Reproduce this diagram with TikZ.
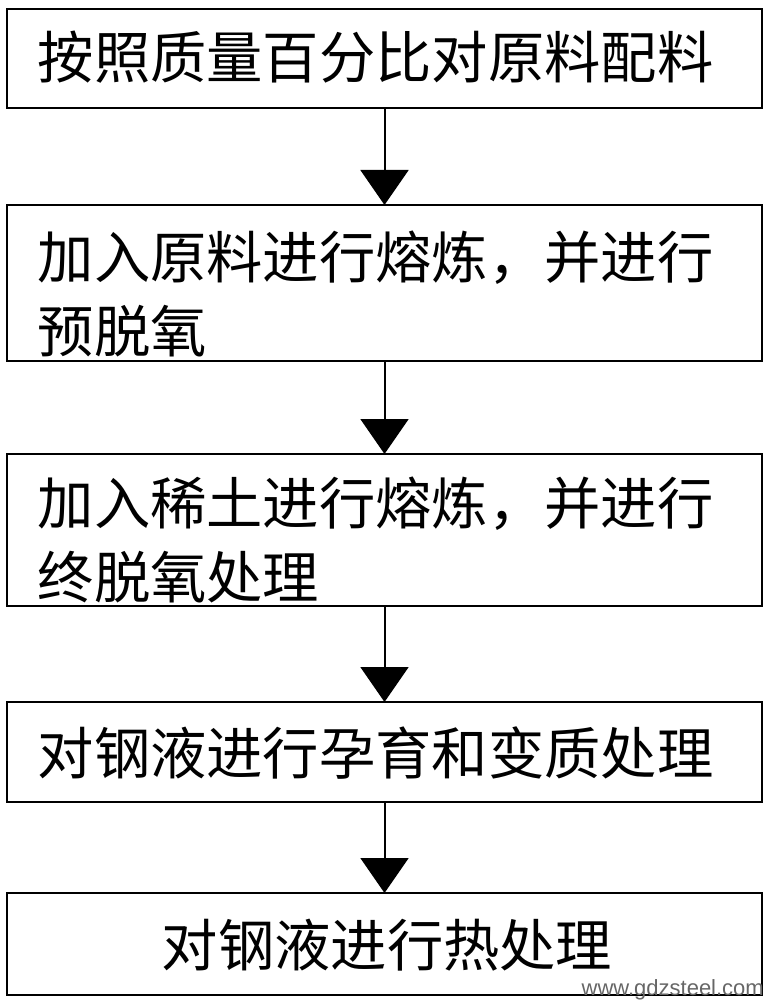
\documentclass[tikz,border=0pt]{standalone}
\usepackage{fontspec}
\newfontfamily\cjk{Noto Sans CJK SC}
\newfontfamily\wmfont{Liberation Sans}
\usetikzlibrary{arrows.meta}
\begin{document}
\begin{tikzpicture}[x=1pt,y=-1pt,
  box/.style={draw=black, line width=2pt, minimum width=755pt, inner sep=0pt, outer sep=0pt},
  txt/.style={font=\cjk\fontsize{56.3}{74}\selectfont, inner sep=0pt, anchor=west, align=left},
  arr/.style={line width=2pt, -{Triangle[width=48pt,length=35pt]}}]
\useasboundingbox (0,0) rectangle (767,1000);
\node[box, minimum height=99pt]  (b1) at (384.5,58.5) {};
\node[box, minimum height=156pt] (b2) at (384.5,283) {};
\node[box, minimum height=152pt] (b3) at (384.5,530) {};
\node[box, minimum height=100pt] (b4) at (384.5,752) {};
\node[box, minimum height=102pt] (b5) at (384.5,944) {};
\node[txt] (t1) at (37.5,57) {按照质量百分比对原料配料};
\node[txt] (t2) at (37.5,294) {加入原料进行熔炼，并进行\\预脱氧};
\node[txt] (t3) at (37.5,540) {加入稀土进行熔炼，并进行\\终脱氧处理};
\node[txt] (t4) at (37.5,753) {对钢液进行孕育和变质处理};
\node[txt, anchor=center] (t5) at (387,945) {对钢液进行热处理};
\draw[arr] (b1.south) -- (b2.north);
\draw[arr] (b2.south) -- (b3.north);
\draw[arr] (b3.south) -- (b4.north);
\draw[arr] (b4.south) -- (b5.north);
\node[font=\wmfont\fontsize{22}{22}\selectfont, text=black!60, anchor=east, inner sep=0pt] (wm) at (764,990) {www.gdzsteel.com};
\end{tikzpicture}
\end{document}
